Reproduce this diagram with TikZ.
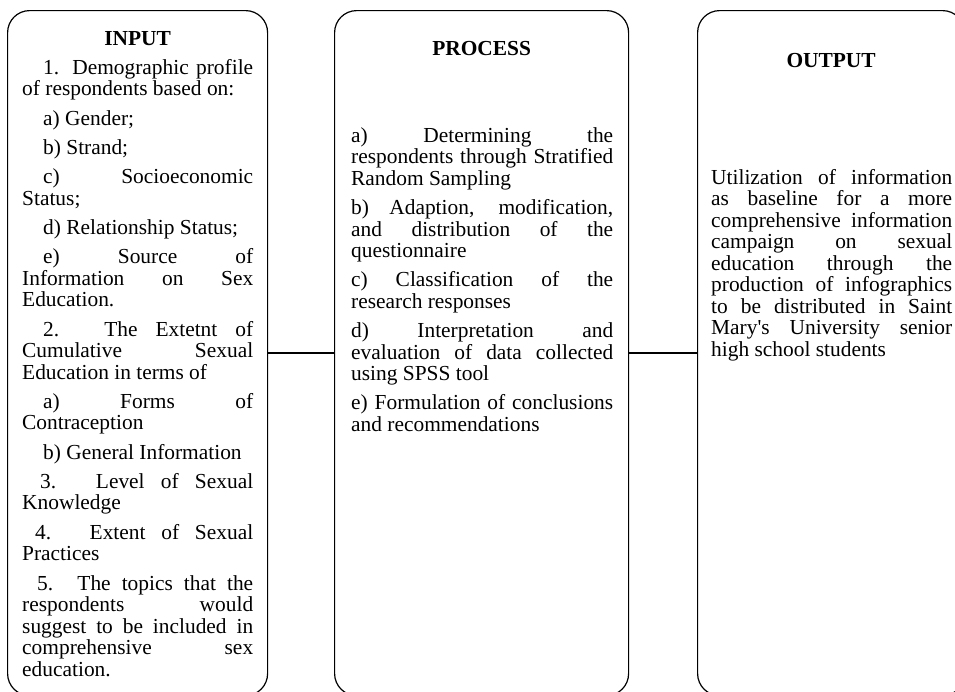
\documentclass[tikz,border=0pt]{standalone}
\usepackage{fontspec}
\setmainfont{Liberation Serif}
\usetikzlibrary{positioning}
\newcommand{\colsetup}{\parindent=0pt \parskip=7.8pt \tolerance=10000 \hyphenpenalty=10000 \exhyphenpenalty=10000}
\newcommand{\topline}{\rule{0pt}{17pt}}

\begin{document}
\begin{tikzpicture}[
    x=1pt, y=-1pt,
    frame/.style={draw, rounded corners=22pt, line width=1.2pt, inner sep=0pt, minimum height=685pt, anchor=north west},
    head/.style={font=\fontsize{21.4}{21.4}\selectfont\bfseries, inner sep=0pt, anchor=base},
    body/.style={font=\fontsize{21.4}{21.5}\selectfont\colsetup, inner sep=0pt, anchor=north west, align=justify},
    link/.style={line width=1.8pt},
]
\useasboundingbox (0,0) rectangle (955,691);

% columns
\node[frame, minimum width=260pt] (input) at (7,10) {};
\node[frame, minimum width=294pt] (process) at (334,10) {};
\node[frame, minimum width=267pt] (output) at (697,10) {};

% headings
\node[head] (inhead) at ([yshift=-35pt]input.north) {INPUT};
\node[head] (prochead) at ([yshift=-45pt]process.north) {PROCESS};
\node[head] (outhead) at ([yshift=-57pt]output.north) {OUTPUT};

% column texts
\node[body, text width=231pt] (intext) at ([xshift=15pt, yshift=-47pt]input.north west) {%
\hspace*{21pt}\topline 1. Demographic profile\linebreak of respondents based on:\par
\hspace*{21pt}a) Gender;\par
\hspace*{21pt}b) Strand;\par
\hspace*{21pt}c) Socioeconomic\linebreak Status;\par
\hspace*{21pt}d) Relationship Status;\par
\hspace*{21pt}e) Source of\linebreak Information on Sex\linebreak Education.\par
\hspace*{21pt}2. The Extetnt of\linebreak Cumulative Sexual\linebreak Education in terms of\par
\hspace*{21pt}a) Forms of\linebreak Contraception\par
\hspace*{21pt}b) General Information\par
\hspace*{18pt}3. Level of Sexual\linebreak Knowledge\par
\hspace*{13pt}4. Extent of Sexual\linebreak Practices\par
\hspace*{15pt}5. The topics that the\linebreak respondents would\linebreak suggest to be included in\linebreak comprehensive sex\linebreak education.};

\node[body, text width=262pt] (proctext) at ([xshift=17pt, yshift=-115pt]process.north west) {%
\topline a) Determining the\linebreak respondents through Stratified\linebreak Random Sampling\par
b) Adaption, modification,\linebreak and distribution of the\linebreak questionnaire\par
c) Classification of the\linebreak research responses\par
d) Interpretation and\linebreak evaluation of data collected\linebreak using SPSS tool\par
e) Formulation of conclusions\linebreak and recommendations};

\node[body, text width=241pt] (outtext) at ([xshift=14pt, yshift=-157pt]output.north west) {%
\topline Utilization of information\linebreak as baseline for a more\linebreak comprehensive information\linebreak campaign on sexual\linebreak education through the\linebreak production of infographics\linebreak to be distributed in Saint\linebreak Mary\textquotesingle s University senior\linebreak high school students};

% links
\draw[link] (input.east) -- (process.west);
\draw[link] (process.east) -- (output.west);
\end{tikzpicture}
\end{document}
